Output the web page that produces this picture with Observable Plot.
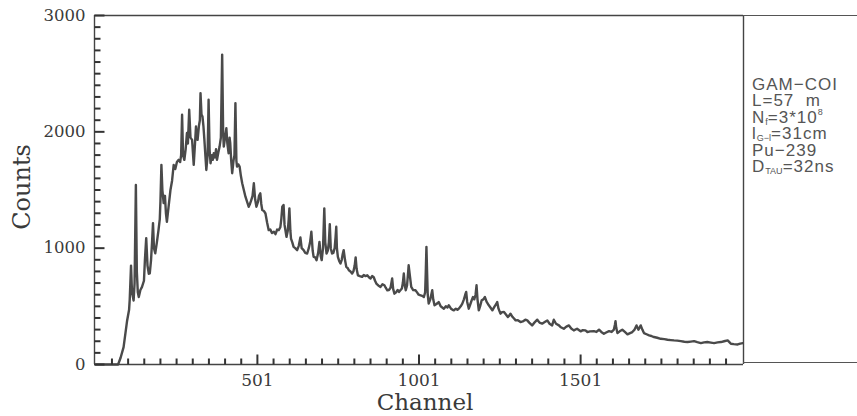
<!DOCTYPE html>
<html><head><meta charset="utf-8">
<script src="https://cdn.jsdelivr.net/npm/d3@7"></script>
<script src="https://cdn.jsdelivr.net/npm/@observablehq/plot@0.6"></script>
<style>
body{margin:0;background:#fff;}
#wrap{position:relative;width:857px;height:416px;}
#panel{position:absolute;left:743px;top:15px;width:114px;height:348px;border-top:1px solid #555;border-bottom:1px solid #555;box-sizing:border-box;}
#legend{position:absolute;left:752px;top:77px;font-family:"Liberation Sans",sans-serif;font-size:17px;color:#555;letter-spacing:1px;white-space:nowrap;}
#legend div{height:16.4px;line-height:16.4px;}
#legend sub,#legend sup{font-size:9px;line-height:0;position:relative;vertical-align:baseline;letter-spacing:0;}
#legend sub{top:2px;}
#legend sup{top:-8px;}
</style></head>
<body><div id="wrap"><div id="panel"></div>
<div id="legend"><div>GAM−COI</div><div>L=57&nbsp;&nbsp;m</div><div>N<sub>f</sub>=3*10<sup>8</sup></div><div>l<sub>G−l</sub>=31cm</div><div>Pu−239</div><div>D<sub>TAU</sub>=32ns</div></div>
</div>
<script>
const channels = [1,40,70,78,87,98,104,106,110,113,118,121,125,128,131,134,139,144,150,153,157,161,165,168,172,175,178,181,185,190,195,199,201,204,207,211,215,218,221,226,232,237,242,247,252,257,262,265,268,271,275,279,283,286,290,294,299,302,304,308,311,314,316,320,323,325,328,331,334,337,340,343,347,350,353,356,360,363,366,370,373,376,380,384,388,392,395,397,401,405,408,412,415,417,420,423,427,430,433,436,438,442,446,450,454,459,464,469,474,478,482,486,490,494,498,503,506,510,513,516,521,526,531,536,541,546,552,557,562,567,572,575,578,582,585,588,591,595,598,600,603,605,609,613,618,624,629,634,638,644,649,655,660,664,668,672,675,680,684,689,693,697,700,704,708,711,715,719,722,725,728,732,736,740,743,745,747,750,754,758,762,765,768,772,776,780,784,789,794,798,802,805,808,812,818,825,830,835,841,846,851,856,861,865,869,875,882,888,894,898,903,908,913,918,921,925,930,935,939,944,948,951,954,957,960,964,967,969,972,977,983,990,995,1000,1006,1011,1016,1020,1022,1024,1026,1028,1031,1036,1039,1042,1045,1049,1055,1062,1068,1073,1078,1084,1089,1093,1100,1105,1109,1115,1120,1124,1130,1135,1140,1144,1147,1150,1155,1160,1165,1168,1172,1176,1179,1182,1186,1190,1195,1200,1205,1210,1217,1222,1228,1235,1240,1243,1247,1253,1258,1264,1270,1276,1280,1284,1290,1295,1300,1307,1315,1322,1330,1336,1342,1351,1358,1367,1374,1382,1390,1398,1405,1413,1418,1425,1434,1440,1449,1457,1465,1472,1480,1490,1501,1508,1516,1522,1530,1542,1550,1558,1565,1573,1580,1589,1597,1604,1607,1609,1611,1615,1622,1630,1638,1646,1654,1661,1668,1674,1680,1684,1687,1692,1697,1705,1713,1720,1728,1738,1749,1760,1770,1780,1790,1800,1811,1822,1832,1842,1852,1862,1873,1883,1893,1904,1914,1925,1935,1945,1956,1962,1966,1975,1987,1995,2003];
const counts = [0,0,0,60,149,379,470,560,850,620,550,700,1543,800,620,580,640,667,720,900,1086,850,780,784,900,1050,1215,1000,956,1050,1155,1250,1400,1716,1500,1388,1450,1300,1227,1350,1500,1580,1716,1680,1740,1759,1740,1800,2147,1800,1759,1850,1990,1900,2190,1950,1931,1800,1716,1900,2046,1950,1931,2050,2100,2333,2150,2132,2050,1931,1800,1672,1800,2276,1850,1730,1800,1760,1816,1780,1850,1759,1820,1873,1950,2664,2000,1873,1950,2031,1900,1816,1950,1902,1750,1644,1750,1800,2247,1750,1701,1720,1701,1620,1558,1500,1442,1400,1356,1380,1414,1450,1558,1420,1356,1400,1450,1472,1380,1328,1320,1298,1220,1155,1160,1130,1141,1120,1160,1155,1180,1250,1356,1371,1200,1150,1097,1150,1250,1342,1150,1083,1050,1011,1000,983,1020,1092,1000,983,960,954,1000,1050,1141,980,925,920,897,960,1054,930,897,1000,1342,1050,954,980,1050,1207,1000,954,960,1000,1100,1184,1000,925,890,868,900,950,983,900,839,830,810,800,782,800,850,920,820,767,760,753,770,760,767,750,739,760,750,720,696,680,667,690,681,660,638,640,660,739,650,609,620,640,624,640,653,700,782,680,638,680,780,853,780,667,640,638,620,600,595,590,580,620,800,1011,800,600,523,560,600,638,560,509,520,537,500,490,480,500,490,509,480,470,466,480,470,480,500,523,560,600,624,540,480,520,560,580,560,600,681,560,466,500,552,560,580,540,509,490,466,500,520,537,480,437,450,451,430,408,420,437,410,395,379,380,365,370,385,379,360,336,360,385,360,351,365,379,350,336,385,350,336,320,307,325,336,310,293,307,285,295,293,279,285,287,280,299,280,264,275,287,280,300,340,373,320,270,285,299,280,259,270,279,300,336,299,320,336,300,270,260,250,245,236,230,221,218,213,210,207,205,201,196,193,197,201,192,184,190,193,188,184,190,193,200,207,190,178,175,172,180,184];
const yMajorTicks = [0, 1000, 2000, 3000];
const xLabelTicks = [501, 1001, 1501];
const xTitle = "Channel";
const yTitle = "Counts";
const xDomain = [-3, 2005];
const yDomain = [0, 3000];

const W = 857, H = 416, mL = 94, mR = 114, mT = 15, mB = 52;
const plotW = W - mL - mR, plotH = H - mT - mB;
const kx = plotW / (xDomain[1] - xDomain[0]);   // px per channel
const ky = plotH / (yDomain[1] - yDomain[0]);   // px per count
const ink = "#444";
const tickInk = "#333";
const textInk = "#3a3a3a";
const data = channels.map((c, i) => ({c, n: counts[i]}));
const yMinor = d3.range(100, 3000, 100).filter(v => v % 1000 !== 0);
const xMinor = d3.range(51, 2000, 50).filter(v => !xLabelTicks.includes(v));

const yTick = (ticks, px, w) => Plot.link(ticks, {
  x1: () => xDomain[0], x2: () => xDomain[0] + px / kx, y1: d => d, y2: d => d,
  stroke: tickInk, strokeWidth: w
});
const xTick = (ticks, px, w) => Plot.link(ticks, {
  y1: () => yDomain[0], y2: () => yDomain[0] + px / ky, x1: d => d, x2: d => d,
  stroke: tickInk, strokeWidth: w
});

const chart = Plot.plot({
  width: W, height: H,
  marginLeft: mL, marginRight: mR, marginTop: mT, marginBottom: mB,
  style: {background: "transparent", color: textInk, fontFamily: "DejaVu Serif"},
  x: {domain: xDomain},
  y: {domain: yDomain},
  marks: [
    Plot.lineY(data, {x: "c", y: "n", stroke: "#4a4a4a", strokeWidth: 2.4, strokeLinejoin: "round"}),
    Plot.ruleY([yDomain[0]], {stroke: ink, strokeWidth: 1.4}),
    Plot.ruleY([yDomain[1]], {stroke: ink, strokeWidth: 1.4}),
    Plot.ruleX([xDomain[0]], {stroke: ink, strokeWidth: 1.4}),
    Plot.ruleX([xDomain[1]], {stroke: ink, strokeWidth: 1.4}),
    yTick(yMinor, 6, 2),
    yTick(yMajorTicks, 10, 2),
    xTick(xMinor, 6, 2),
    xTick(xLabelTicks, 10, 2),
    Plot.axisY({ticks: yMajorTicks, tickSize: 0, tickPadding: 9, tickFormat: d => String(d), label: null, fontSize: 16.5, fill: textInk}),
    Plot.axisX({ticks: xLabelTicks, tickSize: 0, tickPadding: 9, tickFormat: d => String(d), label: null, fontSize: 17, fill: textInk}),
    Plot.text([xTitle], {frameAnchor: "bottom", lineAnchor: "middle", textAnchor: "middle", dx: 6, dy: 38, fontSize: 23, letterSpacing: 1.5, fill: textInk}),
    Plot.text([yTitle], {frameAnchor: "left", lineAnchor: "middle", textAnchor: "middle", dx: -72, dy: -3, rotate: -90, fontSize: 24, letterSpacing: 1.5, fill: textInk})
  ]
});
document.getElementById("wrap").prepend(chart);
</script>
</body></html>
